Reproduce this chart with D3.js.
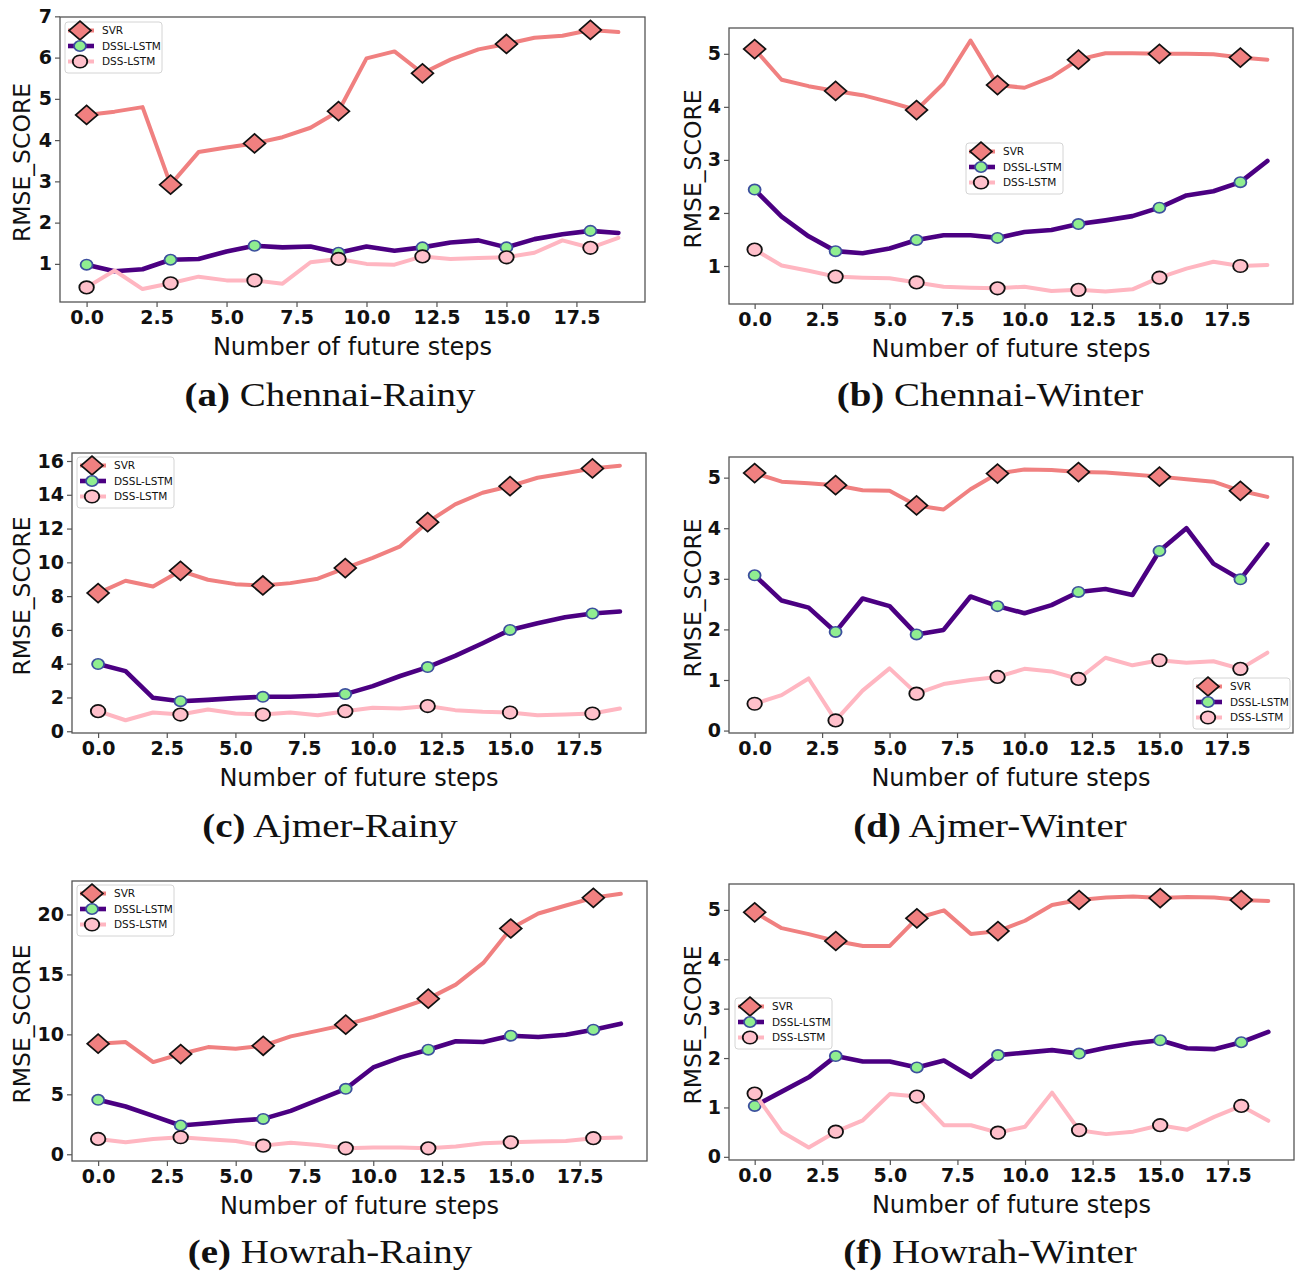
<!DOCTYPE html>
<html>
<head>
<meta charset="utf-8">
<script src="https://d3js.org/d3.v7.min.js"></script>
<style>
  body { margin: 0; background: #fff; }
  svg text { font-family: "DejaVu Sans", sans-serif; fill: #111; }
</style>
</head>
<body>
<svg id="chart" width="1298" height="1273"></svg>
<script>

var steps = [0, 1, 2, 3, 4, 5, 6, 7, 8, 9, 10, 11, 12, 13, 14, 15, 16, 17, 18, 19];
var xTicks = [0, 2.5, 5, 7.5, 10, 12.5, 15, 17.5];
var seriesNames = ['SVR', 'DSSL-LSTM', 'DSS-LSTM'];
var captionTags = ['(a)', '(b)', '(c)', '(d)', '(e)', '(f)'];
var captionNames = ['Chennai-Rainy', 'Chennai-Winter', 'Ajmer-Rainy', 'Ajmer-Winter', 'Howrah-Rainy', 'Howrah-Winter'];

var chennaiRainySVR  = [4.61, 4.69, 4.80, 2.92, 3.71, 3.82, 3.92, 4.07, 4.30, 4.70, 5.98, 6.15, 5.62, 5.95, 6.20, 6.33, 6.48, 6.53, 6.67, 6.62];
var chennaiRainyDSSL = [0.98, 0.82, 0.87, 1.10, 1.12, 1.30, 1.44, 1.40, 1.42, 1.27, 1.42, 1.32, 1.40, 1.52, 1.57, 1.40, 1.60, 1.72, 1.80, 1.75];
var chennaiRainyDSS  = [0.43, 0.84, 0.39, 0.53, 0.69, 0.60, 0.60, 0.52, 1.04, 1.12, 1.00, 0.98, 1.18, 1.12, 1.14, 1.16, 1.27, 1.57, 1.39, 1.63];

var chennaiWinterSVR  = [5.09, 4.51, 4.39, 4.30, 4.22, 4.09, 3.94, 4.44, 5.25, 4.41, 4.36, 4.56, 4.89, 5.01, 5.01, 5.00, 5.00, 4.99, 4.93, 4.89];
var chennaiWinterDSSL = [2.44, 1.93, 1.56, 1.28, 1.24, 1.33, 1.49, 1.58, 1.58, 1.53, 1.64, 1.68, 1.79, 1.86, 1.94, 2.10, 2.33, 2.41, 2.58, 2.98];
var chennaiWinterDSS  = [1.31, 1.01, 0.91, 0.80, 0.78, 0.77, 0.69, 0.61, 0.59, 0.58, 0.61, 0.53, 0.55, 0.52, 0.56, 0.78, 0.95, 1.08, 1.00, 1.02];

var ajmerRainySVR  = [8.18, 8.91, 8.57, 9.50, 8.97, 8.71, 8.63, 8.77, 9.03, 9.66, 10.26, 10.95, 12.38, 13.43, 14.12, 14.51, 15.01, 15.27, 15.56, 15.72];
var ajmerRainyDSSL = [3.98, 3.56, 1.98, 1.78, 1.86, 1.96, 2.04, 2.04, 2.10, 2.20, 2.67, 3.27, 3.80, 4.46, 5.21, 6.00, 6.40, 6.75, 6.97, 7.09];
var ajmerRainyDSS  = [1.19, 0.65, 1.11, 0.99, 1.29, 1.05, 0.99, 1.11, 0.95, 1.19, 1.39, 1.35, 1.49, 1.25, 1.15, 1.11, 0.95, 0.99, 1.05, 1.35];

var ajmerWinterSVR  = [5.09, 4.92, 4.89, 4.85, 4.75, 4.74, 4.45, 4.37, 4.77, 5.08, 5.16, 5.15, 5.11, 5.10, 5.06, 5.02, 4.97, 4.92, 4.74, 4.62];
var ajmerWinterDSSL = [3.07, 2.57, 2.43, 1.95, 2.61, 2.46, 1.90, 1.99, 2.65, 2.46, 2.32, 2.48, 2.74, 2.80, 2.68, 3.55, 4.00, 3.30, 2.99, 3.68];
var ajmerWinterDSS  = [0.53, 0.70, 1.03, 0.20, 0.79, 1.23, 0.73, 0.92, 1.00, 1.06, 1.22, 1.17, 1.02, 1.44, 1.29, 1.39, 1.34, 1.37, 1.22, 1.54];

var howrahRainySVR  = [9.22, 9.36, 7.69, 8.36, 8.94, 8.80, 9.05, 9.83, 10.31, 10.81, 11.45, 12.20, 12.98, 14.15, 15.96, 18.83, 20.08, 20.75, 21.39, 21.73];
var howrahRainyDSSL = [4.54, 3.98, 3.20, 2.40, 2.59, 2.79, 2.95, 3.62, 4.54, 5.46, 7.24, 8.08, 8.72, 9.42, 9.36, 9.89, 9.78, 9.97, 10.39, 10.89];
var howrahRainyDSS  = [1.28, 1.00, 1.28, 1.42, 1.25, 1.11, 0.72, 0.97, 0.78, 0.50, 0.56, 0.56, 0.50, 0.64, 0.92, 1.00, 1.06, 1.11, 1.34, 1.39];

var howrahWinterSVR  = [4.95, 4.63, 4.51, 4.37, 4.27, 4.27, 4.83, 4.99, 4.51, 4.57, 4.78, 5.10, 5.20, 5.25, 5.27, 5.24, 5.26, 5.25, 5.20, 5.18];
var howrahWinterDSSL = [1.03, 1.32, 1.61, 2.04, 1.93, 1.93, 1.81, 1.95, 1.62, 2.06, 2.11, 2.16, 2.09, 2.21, 2.30, 2.36, 2.20, 2.18, 2.32, 2.53];
var howrahWinterDSS  = [1.28, 0.51, 0.19, 0.51, 0.74, 1.27, 1.22, 0.64, 0.64, 0.49, 0.61, 1.30, 0.54, 0.46, 0.51, 0.64, 0.55, 0.81, 1.03, 0.73];

var yTicksA = [1, 2, 3, 4, 5, 6, 7];
var yTicksB = [1, 2, 3, 4, 5];
var yTicksC = [0, 2, 4, 6, 8, 10, 12, 14, 16];
var yTicksD = [0, 1, 2, 3, 4, 5];
var yTicksE = [0, 5, 10, 15, 20];
var yTicksF = [0, 1, 2, 3, 4, 5];

// line / marker look for SVR, DSSL-LSTM, DSS-LSTM (same order as seriesNames)
var styles = [
  {line: '#f08080', width: 4, shape: d3.symbolSquare, size: 180, rotate: 45, fill: '#f08080', edge: '#111'},
  {line: '#4b0082', width: 4.6, shape: d3.symbolCircle, size: 85, rotate: 0, fill: '#90ee90', edge: '#3c4f9e'},
  {line: '#ffb6c1', width: 4, shape: d3.symbolCircle, size: 125, rotate: 0, fill: '#ffc0cb', edge: '#111'}
];
var markerStretch = 1.15;

var panels = [
  {series: [chennaiRainySVR, chennaiRainyDSSL, chennaiRainyDSS], yTicks: yTicksA,
   box: {l: 60, r: 645, t: 17, b: 302}, legend: {x: 65, y: 22}, ylabelX: 22, capX: 330, capY: 406},
  {series: [chennaiWinterSVR, chennaiWinterDSSL, chennaiWinterDSS], yTicks: yTicksB,
   box: {l: 729, r: 1293, t: 28, b: 304}, legend: {x: 966, y: 143}, ylabelX: 693, capX: 990, capY: 406},
  {series: [ajmerRainySVR, ajmerRainyDSSL, ajmerRainyDSS], yTicks: yTicksC,
   box: {l: 72, r: 646, t: 453, b: 733}, legend: {x: 77, y: 457}, ylabelX: 22, capX: 330, capY: 837},
  {series: [ajmerWinterSVR, ajmerWinterDSSL, ajmerWinterDSS], yTicks: yTicksD,
   box: {l: 729, r: 1293, t: 457, b: 733}, legend: {x: 1193, y: 678}, ylabelX: 693, capX: 990, capY: 837},
  {series: [howrahRainySVR, howrahRainyDSSL, howrahRainyDSS], yTicks: yTicksE,
   box: {l: 72, r: 647, t: 881, b: 1161}, legend: {x: 77, y: 885}, ylabelX: 22, capX: 330, capY: 1263},
  {series: [howrahWinterSVR, howrahWinterDSSL, howrahWinterDSS], yTicks: yTicksF,
   box: {l: 729, r: 1294, t: 884, b: 1160}, legend: {x: 735, y: 998}, ylabelX: 693, capX: 990, capY: 1263}
];

var svg = d3.select('#chart');

function padded(ext) {
  var pad = (ext[1] - ext[0]) * 0.05;
  return [ext[0] - pad, ext[1] + pad];
}

function markerPath(st) {
  return d3.symbol().type(st.shape).size(st.size)();
}

function markerTransform(st, px, py) {
  return 'translate(' + px + ',' + py + ') scale(' + markerStretch + ',1) rotate(' + st.rotate + ')';
}

function drawPanel(p, idx) {
  var g = svg.append('g').attr('class', 'panel');
  var box = p.box;

  var x = d3.scaleLinear().domain(padded(d3.extent(steps))).range([box.l, box.r]);
  var all = p.series[0].concat(p.series[1], p.series[2]);
  var y = d3.scaleLinear().domain(padded(d3.extent(all))).range([box.b, box.t]);

  var xAxis = g.append('g').attr('transform', 'translate(0,' + box.b + ')')
    .call(d3.axisBottom(x).tickValues(xTicks).tickFormat(d3.format('.1f')).tickSize(5).tickPadding(4));
  var yAxis = g.append('g').attr('transform', 'translate(' + box.l + ',0)')
    .call(d3.axisLeft(y).tickValues(p.yTicks).tickFormat(d3.format('d')).tickSize(5).tickPadding(3));
  [xAxis, yAxis].forEach(function(a) {
    a.select('.domain').remove();
    a.selectAll('.tick line').attr('stroke', '#555').attr('stroke-width', 1.2);
    a.selectAll('.tick text').attr('font-size', 19).attr('font-weight', 'bold')
      .attr('font-family', '"DejaVu Sans", sans-serif').attr('fill', '#111');
  });

  var line = d3.line().x(function(d, i) { return x(steps[i]); }).y(function(d) { return y(d); });

  p.series.forEach(function(vals, s) {
    var st = styles[s];
    g.append('path').datum(vals).attr('d', line)
      .attr('fill', 'none').attr('stroke', st.line).attr('stroke-width', st.width)
      .attr('stroke-linejoin', 'round').attr('stroke-linecap', 'round');
    var marked = steps.filter(function(v) { return v % 3 === 0; });
    g.selectAll(null).data(marked).enter().append('path')
      .attr('d', markerPath(st))
      .attr('transform', function(v) { return markerTransform(st, x(v), y(vals[v])); })
      .attr('fill', st.fill).attr('stroke', st.edge).attr('stroke-width', 1.6);
  });

  g.append('rect').attr('x', box.l).attr('y', box.t)
    .attr('width', box.r - box.l).attr('height', box.b - box.t)
    .attr('fill', 'none').attr('stroke', '#555').attr('stroke-width', 1.3);

  // legend
  var lg = g.append('g').attr('transform', 'translate(' + p.legend.x + ',' + p.legend.y + ')');
  lg.append('rect').attr('width', 97).attr('height', 51).attr('rx', 3)
    .attr('fill', '#fff').attr('fill-opacity', 0.85).attr('stroke', '#d4d4d4').attr('stroke-width', 1);
  seriesNames.forEach(function(name, s) {
    var st = styles[s];
    var ry = 8.5 + s * 15.5;
    lg.append('line').attr('x1', 3).attr('x2', 29).attr('y1', ry).attr('y2', ry)
      .attr('stroke', st.line).attr('stroke-width', st.width);
    lg.append('path').attr('d', markerPath(st)).attr('transform', markerTransform(st, 15, ry))
      .attr('fill', st.fill).attr('stroke', st.edge).attr('stroke-width', 1.6);
    lg.append('text').attr('x', 37).attr('y', ry).attr('dy', '0.35em')
      .attr('font-size', 10.5).text(name);
  });

  // axis titles
  g.append('text').attr('x', (box.l + box.r) / 2).attr('y', box.b + 53)
    .attr('text-anchor', 'middle').attr('font-size', 24).text('Number of future steps');
  g.append('text')
    .attr('transform', 'translate(' + p.ylabelX + ',' + ((box.t + box.b) / 2 + 3) + ') rotate(-90)')
    .attr('text-anchor', 'middle').attr('dy', '0.35em').attr('font-size', 23.5).text('RMSE_SCORE');

  // caption under the subfigure
  var cap = g.append('text')
    .attr('transform', 'translate(' + p.capX + ',' + p.capY + ') scale(1.18,1)')
    .attr('text-anchor', 'middle')
    .style('font-family', '"Liberation Serif", "Times New Roman", serif')
    .attr('font-size', 33);
  cap.append('tspan').attr('font-weight', 'bold').text(captionTags[idx]);
  cap.append('tspan').text(' ' + captionNames[idx]);
}

panels.forEach(drawPanel);

</script>
</body>
</html>
